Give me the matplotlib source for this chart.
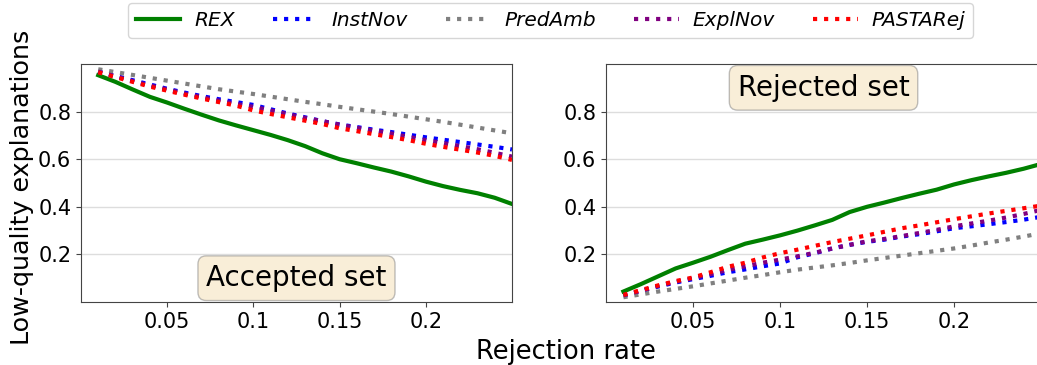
import matplotlib

matplotlib.use("Agg")

import matplotlib.pyplot as plt  # noqa: E402
import numpy as np  # noqa: E402

# rejection rates 0.01 .. 0.25
rates = [0.01, 0.02, 0.03, 0.04, 0.05, 0.06, 0.07, 0.08, 0.09, 0.10, 0.11, 0.12, 0.13,
         0.14, 0.15, 0.16, 0.17, 0.18, 0.19, 0.20, 0.21, 0.22, 0.23, 0.24, 0.25]

methods = ["REX", "InstNov", "PredAmb", "ExplNov", "PASTARej"]

# accepted set
acc_rex = [0.953, 0.925, 0.893, 0.862, 0.838, 0.812, 0.787, 0.763, 0.742, 0.722, 0.702, 0.680, 0.655,
           0.625, 0.600, 0.583, 0.565, 0.548, 0.528, 0.506, 0.487, 0.471, 0.457, 0.438, 0.412]
acc_instnov = [0.968, 0.950, 0.932, 0.914, 0.896, 0.880, 0.865, 0.852, 0.840, 0.828, 0.810, 0.792, 0.776,
               0.760, 0.746, 0.735, 0.724, 0.714, 0.703, 0.692, 0.682, 0.672, 0.662, 0.652, 0.641]
acc_predamb = [0.978, 0.966, 0.954, 0.942, 0.930, 0.918, 0.906, 0.894, 0.884, 0.874, 0.863, 0.852, 0.841,
               0.831, 0.820, 0.810, 0.800, 0.790, 0.779, 0.768, 0.757, 0.745, 0.733, 0.721, 0.709]
acc_explnov = [0.968, 0.948, 0.928, 0.910, 0.893, 0.876, 0.861, 0.846, 0.832, 0.820, 0.805, 0.789, 0.773,
               0.760, 0.745, 0.732, 0.720, 0.708, 0.694, 0.680, 0.668, 0.655, 0.642, 0.627, 0.611]
acc_pastarej = [0.965, 0.945, 0.925, 0.905, 0.888, 0.871, 0.855, 0.840, 0.825, 0.805, 0.790, 0.776, 0.762,
                0.748, 0.730, 0.718, 0.705, 0.693, 0.680, 0.665, 0.652, 0.640, 0.628, 0.614, 0.597]

# rejected set
rej_rex = [0.044, 0.075, 0.108, 0.141, 0.165, 0.190, 0.218, 0.245, 0.262, 0.280, 0.300, 0.322, 0.345,
           0.378, 0.400, 0.418, 0.437, 0.455, 0.472, 0.494, 0.512, 0.528, 0.543, 0.560, 0.580]
rej_instnov = [0.027, 0.046, 0.065, 0.082, 0.096, 0.110, 0.125, 0.137, 0.150, 0.162, 0.188, 0.205, 0.225,
               0.240, 0.253, 0.262, 0.275, 0.285, 0.297, 0.310, 0.318, 0.327, 0.336, 0.346, 0.358]
rej_predamb = [0.020, 0.032, 0.044, 0.055, 0.066, 0.078, 0.090, 0.102, 0.113, 0.125, 0.136, 0.145, 0.154,
               0.164, 0.175, 0.185, 0.195, 0.205, 0.215, 0.225, 0.237, 0.250, 0.262, 0.275, 0.289]
rej_explnov = [0.028, 0.047, 0.067, 0.085, 0.100, 0.117, 0.135, 0.150, 0.165, 0.178, 0.192, 0.207, 0.225,
               0.240, 0.255, 0.265, 0.277, 0.290, 0.303, 0.318, 0.330, 0.342, 0.355, 0.370, 0.387]
rej_pastarej = [0.030, 0.050, 0.070, 0.088, 0.103, 0.125, 0.148, 0.165, 0.187, 0.205, 0.220, 0.236, 0.252,
                0.266, 0.280, 0.295, 0.310, 0.322, 0.335, 0.348, 0.360, 0.372, 0.383, 0.394, 0.405]

styles = {
    "REX": dict(color="green", linestyle="-"),
    "InstNov": dict(color="blue", linestyle=":"),
    "PredAmb": dict(color="gray", linestyle=":"),
    "ExplNov": dict(color="purple", linestyle=":"),
    "PASTARej": dict(color="red", linestyle=":"),
}

panels = [
    ("Accepted set", 0.10, [acc_rex, acc_instnov, acc_predamb, acc_explnov, acc_pastarej]),
    ("Rejected set", 0.90, [rej_rex, rej_instnov, rej_predamb, rej_explnov, rej_pastarej]),
]

fig = plt.figure(figsize=(10.37, 3.65), dpi=100)
ax_left = fig.add_axes([0.0781, 0.1726, 0.4156, 0.652])
ax_right = fig.add_axes([0.5844, 0.1726, 0.4195, 0.652])

x = np.array(rates)
for ax, (title, ty, series) in zip([ax_left, ax_right], panels):
    for name, vals in zip(methods, series):
        ax.plot(x, vals, linewidth=3, label=name, **styles[name])
    ax.set_xlim(0, 0.25)
    ax.set_ylim(0, 1.0)
    ax.set_xticks([0.05, 0.1, 0.15, 0.2])
    ax.set_xticklabels(["0.05", "0.1", "0.15", "0.2"])
    ax.set_yticks([0.2, 0.4, 0.6, 0.8])
    ax.tick_params(labelsize=15, color="#444444")
    ax.grid(True, axis="y", color="#dddddd", linewidth=1)
    ax.set_axisbelow(True)
    for sp in ax.spines.values():
        sp.set_color("#444444")
    ax.text(
        0.5, ty, title, transform=ax.transAxes, ha="center", va="center", fontsize=20,
        bbox={"boxstyle": "round,pad=0.3", "facecolor": "wheat", "edgecolor": "gray", "alpha": 0.5},
    )

ax_left.set_ylabel("Low-quality explanations", fontsize=18.3)
ax_left.yaxis.set_label_coords(-0.11, 0.48)
fig.text(0.546, 0.035, "Rejection rate", ha="center", va="center", fontsize=18.5)

handles, labels = ax_left.get_legend_handles_labels()
fig.legend(
    handles, labels, loc="upper center", bbox_to_anchor=(0.531, 1.0), ncol=5,
    prop={"size": 14.5, "style": "italic"}, handlelength=2.2, handletextpad=0.7,
    columnspacing=1.9, borderaxespad=0.15, frameon=True,
)

fig.savefig("out.png", dpi=100)
plt.close(fig)
